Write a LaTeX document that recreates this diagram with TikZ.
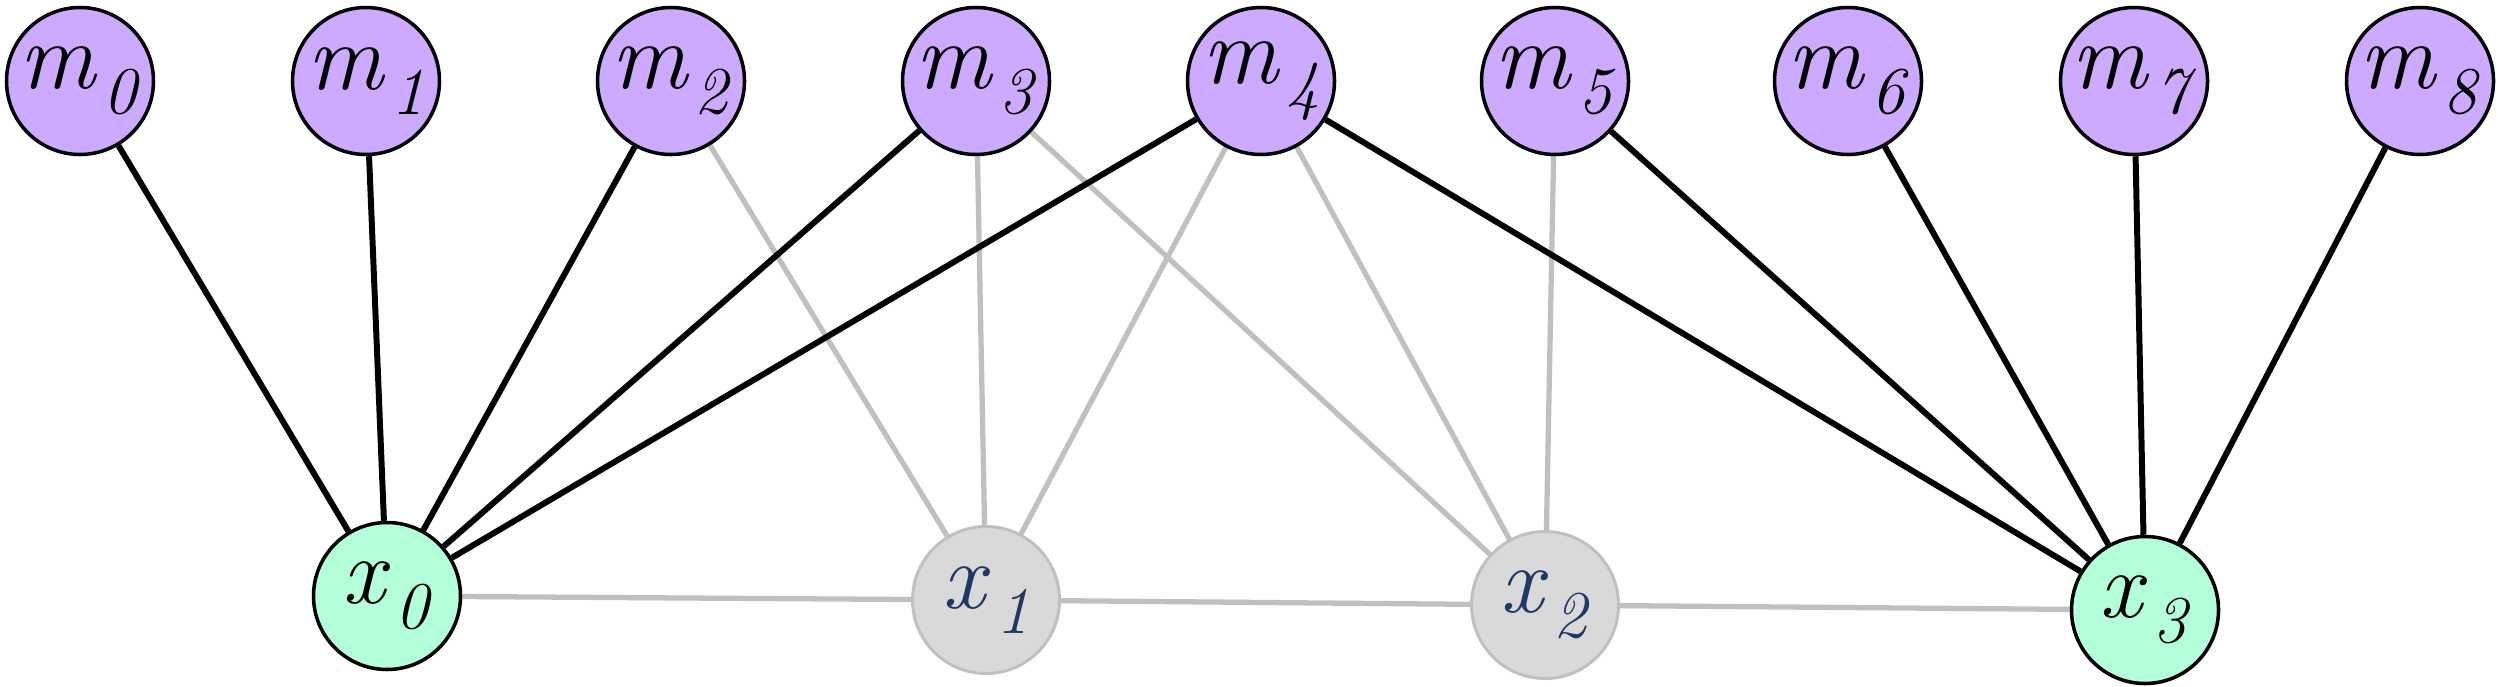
\documentclass[tikz,border=0pt]{standalone}
\usepackage{fontspec}
\usepackage{tikz}
\usetikzlibrary{positioning,backgrounds}
\definecolor{msgpurple}{HTML}{CCAAFF}
\definecolor{varmint}{HTML}{B3FFD9}
\definecolor{offgray}{HTML}{D9D9D9}
\definecolor{offedge}{HTML}{C0C0C0}
\definecolor{offtext}{HTML}{1F3864}

% label with a big italic subscript
\newcommand{\vlab}[2]{\textit{#1}\hspace{0.06em}\raisebox{-0.26em}{\fontsize{19}{19}\selectfont\textit{#2}}}

\tikzset{
  vnode/.style={circle,minimum size=1.47cm,inner sep=0pt,line width=1pt,
    font=\fontsize{27}{27}\selectfont},
  mnode/.style={vnode,draw=black,fill=msgpurple},
  onnode/.style={vnode,draw=black,fill=varmint},
  offnode/.style={vnode,draw=offedge,fill=offgray,text=offtext,line width=0.85pt},
  strong/.style={black,line width=1.7pt},
  weak/.style={offedge,line width=1.5pt}
}

\begin{document}
\begin{tikzpicture}
  \useasboundingbox (0,0) rectangle (24.98,6.86);

  % top row
  \foreach \i/\x in {0/0.80,1/3.66,2/6.71,3/9.76,4/12.61,5/15.55,6/18.48,7/21.34,8/24.20} {
    \node[mnode] (m\i) at (\x,6.05) {\vlab{m}{\i}};
  }

  % bottom row
  \node[onnode]  (x0) at (3.87,0.90)  {\vlab{x}{0}};
  \node[offnode] (x1) at (9.86,0.86)  {\vlab{x}{1}};
  \node[offnode] (x2) at (15.45,0.81) {\vlab{x}{2}};
  \node[onnode]  (x3) at (21.45,0.76) {\vlab{x}{3}};

  \begin{scope}[on background layer]
    % chain
    \draw[weak] (x0) -- (x1);
    \draw[weak] (x1) -- (x2);
    \draw[weak] (x2) -- (x3);
    % inactive links
    \foreach \i in {2,3,4} {
      \draw[weak] (m\i) -- (x1);
    }
    \foreach \i in {3,4,5} {
      \draw[weak] (m\i) -- (x2);
    }
    % active links
    \foreach \i in {0,...,4} {
      \draw[strong] (m\i) -- (x0);
    }
    \foreach \i in {4,...,8} {
      \draw[strong] (m\i) -- (x3);
    }
  \end{scope}
\end{tikzpicture}
\end{document}
